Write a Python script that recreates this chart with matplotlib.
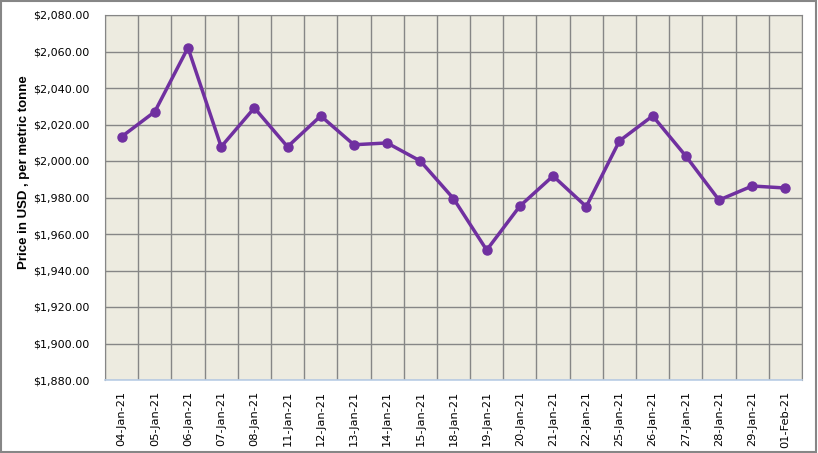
import matplotlib.pyplot as plt
from matplotlib.patches import Rectangle

dates = ["04-Jan-21", "05-Jan-21", "06-Jan-21", "07-Jan-21", "08-Jan-21",
         "11-Jan-21", "12-Jan-21", "13-Jan-21", "14-Jan-21", "15-Jan-21",
         "18-Jan-21", "19-Jan-21", "20-Jan-21", "21-Jan-21", "22-Jan-21",
         "25-Jan-21", "26-Jan-21", "27-Jan-21", "28-Jan-21", "29-Jan-21",
         "01-Feb-21"]
prices = [2013.3, 2027.0, 2062.1, 2007.8, 2029.1,
          2007.8, 2024.7, 2008.9, 2009.9, 2000.0,
          1979.4, 1951.2, 1975.3, 1991.8, 1975.0,
          2011.0, 2024.7, 2002.7, 1978.6, 1986.3,
          1985.2]
yticks = list(range(1880, 2081, 20))

fig = plt.figure(figsize=(8.18, 4.53), dpi=100)
ax = fig.add_axes([105 / 818, 1 - 380 / 453, 697 / 818, 365 / 453])
ax.set_facecolor("#EDEBE0")

x = range(len(dates))
ax.plot(x, prices, color="#7030A0", lw=2.5, marker="o", ms=6.5, zorder=3)

ax.set_xlim(-0.5, len(dates) - 0.5)
ax.set_ylim(1880, 2080)
ax.set_yticks(yticks)
ax.set_yticklabels(["${:,.2f}".format(v) for v in yticks], fontsize=8)
# cell borders as major ticks, dates as minor ticks in the middle
ax.set_xticks([i + 0.5 for i in range(-1, len(dates))], minor=False)
ax.set_xticklabels([""] * (len(dates) + 1))
ax.set_xticks(list(x), minor=True)
ax.set_xticklabels(dates, minor=True, rotation=90, fontsize=8.2)
ax.tick_params(axis="x", which="minor", length=0, pad=8)
ax.tick_params(axis="x", which="major", length=0)
ax.tick_params(axis="y", length=0, pad=11)
ax.grid(True, which="major", color="#868686", lw=1.0)
ax.set_axisbelow(True)

for s in ["top", "right", "left"]:
    ax.spines[s].set_color("#868686")
ax.spines["bottom"].set_color("#B9CDE5")
ax.spines["bottom"].set_linewidth(1.2)

ax.set_ylabel("Price in USD , per metric tonne", fontsize=9.5, fontweight="bold",
              family="Liberation Sans")
ax.yaxis.set_label_coords(-0.108, 0.57)

fig.patches.append(Rectangle((0.001, 0.002), 0.997, 0.995, transform=fig.transFigure,
                             fill=False, edgecolor="#868686", lw=1.5))

fig.savefig("out.png", dpi=100)
